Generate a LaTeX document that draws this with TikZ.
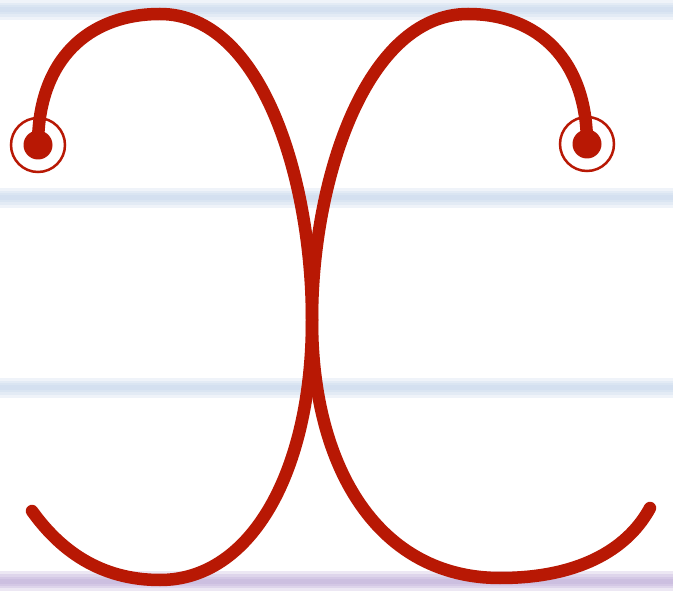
\documentclass[tikz,border=0pt]{standalone}
\usetikzlibrary{positioning}
\definecolor{inkred}{RGB}{184,24,4}
\definecolor{ruleblue}{RGB}{196,214,236}
\definecolor{rulepurple}{RGB}{186,168,214}

\begin{document}
\begin{tikzpicture}[
    x=1pt, y=-1pt,
    rule/.style={line width=#1, draw opacity=0.27},
    stroke/.style={draw=inkred, line width=12.5pt, line cap=round},
    startdot/.style={circle, fill=inkred, minimum size=29pt, inner sep=0pt},
    startring/.style={circle, draw=inkred, line width=2.5pt, minimum size=54pt, inner sep=0pt}
]
\useasboundingbox[fill=white] (0,0) rectangle (673,596);

% ruled lines, soft edges
\foreach \yy in {10,198,388} {
  \foreach \w in {20pt,14pt,9pt,5pt}
    \draw[rule=\w, ruleblue] (0,\yy) -- (673,\yy);
}
\foreach \w in {20pt,14pt,9pt,5pt}
  \draw[rule=\w, rulepurple] (0,581) -- (673,581);

% start points
\node[startring] (ringL) at (38,145) {};
\node[startring] (ringR) at (587,144) {};
\node[startdot] (startL) at (38,145) {};
\node[startdot] (startR) at (587,144) {};

% left half
\draw[stroke] (startL.center) .. controls (38,60) and (88,14) .. (160,14)
    .. controls (262,14) and (312,180) .. (312,320)
    .. controls (312,470) and (252,580) .. (160,580)
    .. controls (100,580) and (60,550) .. (32,511);

% right half
\draw[stroke] (startR.center) .. controls (587,60) and (538,14) .. (468,14)
    .. controls (366,14) and (312,180) .. (312,320)
    .. controls (312,470) and (380,578) .. (500,578)
    .. controls (585,578) and (630,545) .. (650,508);
\end{tikzpicture}
\end{document}
